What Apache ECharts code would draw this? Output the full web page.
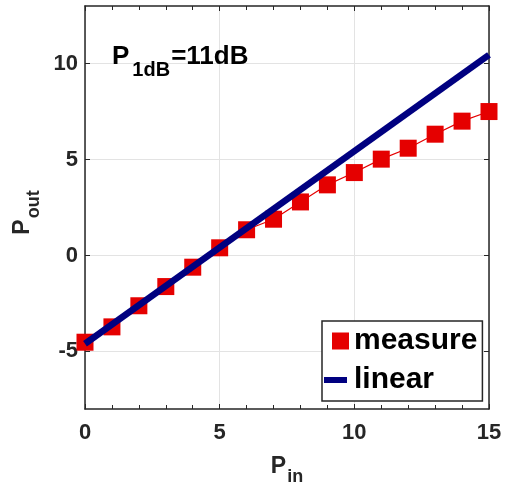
<!DOCTYPE html>
<html>
<head>
<meta charset="utf-8">
<script src="https://cdn.jsdelivr.net/npm/echarts@6/dist/echarts.min.js"></script>
<style>
html,body{margin:0;padding:0;background:#fff;}
#chart{width:505px;height:491px;}
</style>
</head>
<body>
<div id="chart"></div>
<script>
// ---- data ----
const pinValues = [0, 1, 2, 3, 4, 5, 6, 7, 8, 9, 10, 11, 12, 13, 14, 15];
const measureValues = [-4.52, -3.72, -2.62, -1.62, -0.61, 0.4, 1.34, 1.89, 2.79, 3.68, 4.32, 5.02, 5.59, 6.32, 7.0, 7.5];
const linearX = [0, 15];
const linearY = [-4.6, 10.45];
const yTickValues = [-5, 0, 5, 10];
const seriesNames = ['measure', 'linear'];
const annotationMain = 'P';
const annotationSub = '1dB';
const annotationRest = '=11dB';

const FONT = 'Liberation Sans, Arial, Helvetica, sans-serif';
const AX = '#262626';

const measureData = pinValues.map((x, i) => [x, measureValues[i]]);
const linearData = linearX.map((x, i) => [x, linearY[i]]);

const axisLineStyle = { color: AX, width: 1.5 };

const chart = echarts.init(document.getElementById('chart'), null, { renderer: 'canvas' });

const subRich = (pSize, sSize, sOff, endPad) => ({
  p: { fontSize: pSize, fontWeight: 'bold', fontFamily: FONT, color: AX, lineHeight: pSize, verticalAlign: 'top' },
  s: { fontSize: sSize, fontWeight: 'bold', fontFamily: FONT, color: AX, lineHeight: sSize, verticalAlign: 'top', padding: [sOff, endPad, 0, 1] }
});

chart.setOption({
  animation: false,
  backgroundColor: '#fff',
  grid: { left: 85, right: 16, top: 6, bottom: 81, containLabel: false },
  xAxis: [
    {
      type: 'value', min: 0, max: 15, interval: 5, position: 'bottom',
      axisLine: { show: true, onZero: false, lineStyle: axisLineStyle },
      axisTick: { show: true, inside: true, length: 5, lineStyle: { color: AX, width: 1 } },
      minorTick: { show: true, splitNumber: 5, length: 4, lineStyle: { color: AX, width: 1 } },
      splitLine: { show: true, lineStyle: { color: '#e3e3e3', width: 1 } },
      axisLabel: { fontSize: 22, fontWeight: 'bold', color: AX, fontFamily: FONT, margin: 13 },
      name: '{p|P}{s|in}', nameLocation: 'middle', nameGap: 46,
      nameTextStyle: { rich: subRich(23, 18, 13, 0) }
    },
    {
      type: 'value', min: 0, max: 15, interval: 5, position: 'top',
      axisLine: { show: true, onZero: false, lineStyle: axisLineStyle },
      axisTick: { show: true, inside: true, length: 5, lineStyle: { color: AX, width: 1 } },
      minorTick: { show: true, splitNumber: 5, length: 4, lineStyle: { color: AX, width: 1 } },
      splitLine: { show: false },
      axisLabel: { show: false }
    }
  ],
  yAxis: [
    {
      type: 'value', min: -8, max: 13, position: 'left',
      axisLine: { show: true, onZero: false, lineStyle: axisLineStyle },
      axisTick: { show: true, inside: true, length: 5, customValues: yTickValues, lineStyle: { color: AX, width: 1 } },
      splitLine: { show: true, lineStyle: { color: '#e3e3e3', width: 1 } },
      axisLabel: { fontSize: 22, fontWeight: 'bold', color: AX, fontFamily: FONT, margin: 7, customValues: yTickValues },
      name: '{p|P}{s|out}', nameLocation: 'middle', nameGap: 44, nameRotate: 90,
      nameTextStyle: { rich: subRich(23, 18, 13, 10) }
    },
    {
      type: 'value', min: -8, max: 13, position: 'right',
      axisLine: { show: true, onZero: false, lineStyle: axisLineStyle },
      axisTick: { show: true, inside: true, length: 5, customValues: yTickValues, lineStyle: { color: AX, width: 1 } },
      splitLine: { show: false },
      axisLabel: { show: false }
    }
  ],
  legend: {
    show: true,
    left: 322, top: 321,
    orient: 'vertical',
    backgroundColor: '#fff',
    borderColor: AX, borderWidth: 1.5,
    padding: [5, 5, 6, 2],
    itemGap: 9,
    itemWidth: 25, itemHeight: 30,
    textStyle: { fontSize: 30, fontWeight: 'bold', color: '#000', fontFamily: FONT, lineHeight: 30 },
    data: [
      { name: seriesNames[0], icon: 'path://M0,0M25,30M8,6.5h17v17h-17z', itemStyle: { color: '#e50000' } },
      { name: seriesNames[1], icon: 'path://M0,0M25,30M0,12h23v6h-23z', itemStyle: { color: '#000080' } }
    ],
    selectedMode: false
  },
  series: [
    {
      name: seriesNames[0], type: 'line', xAxisIndex: 0, yAxisIndex: 0,
      data: measureData,
      symbol: 'rect', symbolSize: 17,
      showSymbol: true,
      lineStyle: { color: '#e50000', width: 1.2 },
      itemStyle: { color: '#e50000' },
      z: 2
    },
    {
      name: seriesNames[1], type: 'line', xAxisIndex: 0, yAxisIndex: 0,
      data: linearData,
      symbol: 'none',
      lineStyle: { color: '#000080', width: 6.5, cap: 'butt' },
      itemStyle: { color: '#000080' },
      z: 3
    }
  ],
  graphic: [
    {
      type: 'text', left: 112, top: 44, z: 10,
      style: {
        text: '{p|' + annotationMain + '}{s|' + annotationSub + '}{p|' + annotationRest + '}',
        rich: {
          p: { fontSize: 26, fontWeight: 'bold', fontFamily: FONT, fill: '#000', lineHeight: 26, verticalAlign: 'top' },
          s: { fontSize: 20, fontWeight: 'bold', fontFamily: FONT, fill: '#000', lineHeight: 20, verticalAlign: 'top', padding: [16, 1, 0, 3] }
        }
      }
    }
  ]
});
</script>
</body>
</html>
